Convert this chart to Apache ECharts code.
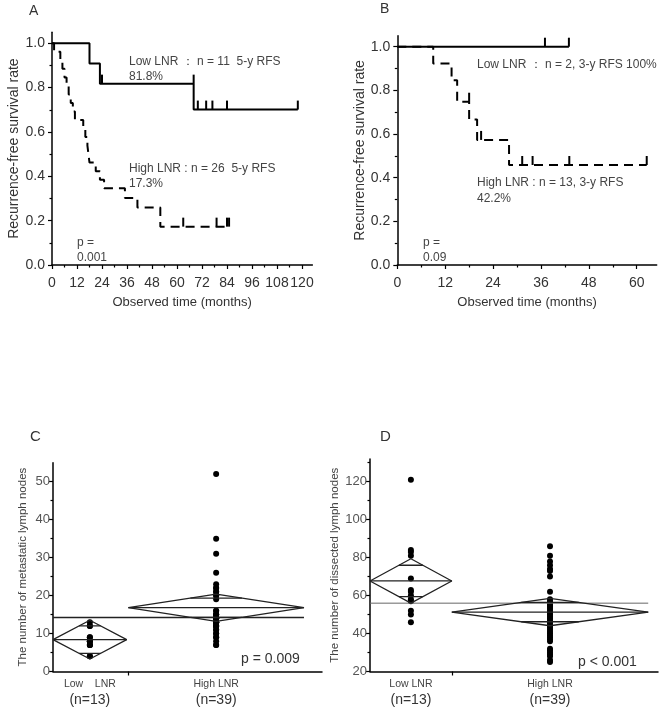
<!DOCTYPE html>
<html><head><meta charset="utf-8">
<script src="https://cdn.jsdelivr.net/npm/echarts@6/dist/echarts.min.js"></script>
<style>html,body{margin:0;padding:0;background:#fff}#c{width:667px;height:707px}</style>
</head><body><div id="c"></div>
<script>
// ---------- Panel A (Kaplan-Meier) ----------
const aLowTime  = [0, 18, 23, 68, 118];
const aLowSurv  = [1.0, 0.909, 0.818, 0.701, 0.701];
const aLowCensorTime = [24, 68, 70, 74, 77, 84, 118];
const aLowCensorSurv = [0.818, 0.818, 0.701, 0.701, 0.701, 0.701, 0.701];
const aHighTime = [0, 1, 4, 5, 6, 7, 8, 9, 10, 11, 15, 16, 17, 17.5, 18, 21, 23, 25, 35, 41, 52, 85];
const aHighSurv = [1.0, 0.962, 0.923, 0.885, 0.846, 0.808, 0.769, 0.731, 0.692, 0.654, 0.615, 0.577, 0.538, 0.500, 0.462, 0.423, 0.385, 0.346, 0.302, 0.259, 0.173, 0.173];
const aHighCensorTime = [63, 79, 84, 85];
const aHighCensorSurv = [0.173, 0.173, 0.173, 0.173];
const aXTicks = [0, 12, 24, 36, 48, 60, 72, 84, 96, 108, 120];
const aXMinor = [6, 18, 30, 42, 54, 66, 78, 90, 102, 114];

// ---------- Panel B (Kaplan-Meier) ----------
const bLowTime  = [0, 43];
const bLowSurv  = [1.0, 1.0];
const bLowCensorTime = [37, 43];
const bLowCensorSurv = [1.0, 1.0];
const bHighTime = [0, 9, 13.6, 15, 18, 20, 28, 62.5];
const bHighSurv = [1.0, 0.923, 0.846, 0.748, 0.667, 0.573, 0.458, 0.458];
const bHighCensorTime = [18, 21, 31.3, 33.9, 43.1, 62.5];
const bHighCensorSurv = [0.748, 0.573, 0.458, 0.458, 0.458, 0.458];
const bXTicks = [0, 12, 24, 36, 48, 60];
const bXMinor = [6, 18, 30, 42, 54];

const kmYTicks = [0, 0.2, 0.4, 0.6, 0.8, 1.0];
const kmYMinor = [0.1, 0.3, 0.5, 0.7, 0.9];

// ---------- Panel C (metastatic lymph nodes) ----------
const groupNames = ['Low LNR', 'High LNR'];
const groupN = [13, 39];
const cLow  = [13, 12, 12, 9, 9, 8, 8, 8, 7, 7, 7, 4, 4];
const cHigh = [52, 35, 31, 26, 23, 22, 22, 21, 21, 20, 20, 19, 16, 16, 15, 15, 15, 14, 14, 14, 14, 13, 13, 13, 13, 13, 12, 12, 12, 12, 11, 11, 10, 10, 9, 9, 8, 7, 7];
const cMean = [8.4, 16.8];
const cCI   = [5.1, 3.6];
const cGrandMean = 14.2;
const cGroupLeft  = [0, 28];
const cGroupRight = [27.4, 93.3];
const cYTicks = [0, 10, 20, 30, 40, 50];
const cYMinor = [5, 15, 25, 35, 45];

// ---------- Panel D (dissected lymph nodes) ----------
const dLow  = [121, 84, 83, 81, 69, 63, 62, 60, 58, 57, 52, 50, 46];
const dHigh = [86, 81, 78, 76, 74, 73, 70, 62, 58, 57, 56, 55, 55, 54, 53, 52, 51, 50, 49, 48, 47, 46, 45, 44, 43, 42, 41, 40, 39, 38, 37, 36, 32, 31, 30, 29, 28, 26, 25];
const dMean = [67.7, 51.3];
const dCI   = [11.7, 7.2];
const dGrandMean = 56;
const dGroupLeft  = [0, 28.4];
const dGroupRight = [28.4, 96.6];
const dYTicks = [20, 40, 60, 80, 100, 120];
const dYMinor = [30, 50, 70, 90, 110, 130];

const FONT = 'Liberation Sans, Arial, sans-serif';
const zip = (xs, ys) => xs.map((x, i) => [x, ys[i]]);

function kmLine(xi, yi, t, s, dashed) {
  return { type: 'line', xAxisIndex: xi, yAxisIndex: yi, step: 'end', symbol: 'none', silent: true,
    data: zip(t, s), lineStyle: { color: '#000', width: 2, type: dashed ? [9, 6] : 'solid' } };
}
function censor(xi, yi, t, s) {
  return { type: 'scatter', xAxisIndex: xi, yAxisIndex: yi, symbol: 'rect', symbolSize: [2, 9],
    symbolOffset: [0, '-50%'], itemStyle: { color: '#000', opacity: 1 }, data: zip(t, s), silent: true };
}
function seg(xi, yi, pts, w, color) {
  return { type: 'line', xAxisIndex: xi, yAxisIndex: yi, symbol: 'none', silent: true, data: pts,
    lineStyle: { color: color || '#222', width: w || 1.3 } };
}
function diamonds(xi, yi, left, right, mean, ci) {
  const out = [];
  for (let g = 0; g < mean.length; g++) {
    const l = left[g], r = right[g], c = (l + r) / 2, m = mean[g], h = ci[g];
    out.push(seg(xi, yi, [[l, m], [c, m + h], [r, m], [c, m - h], [l, m]]));
    out.push(seg(xi, yi, [[l, m], [r, m]]));
    const hw = (r - l) / 2 * (1 - 1 / Math.SQRT2), d = h / Math.SQRT2;
    out.push(seg(xi, yi, [[c - hw, m + d], [c + hw, m + d]]));
    out.push(seg(xi, yi, [[c - hw, m - d], [c + hw, m - d]]));
  }
  return out;
}
function dots(xi, yi, x, vals) {
  return { type: 'scatter', xAxisIndex: xi, yAxisIndex: yi, symbolSize: 6, itemStyle: { color: '#000', opacity: 1 },
    data: vals.map(v => [x, v]), silent: true };
}

const axLine = { show: true, lineStyle: { color: '#000', width: 1.5 } };
function kmX(grid, max, ticks, name) {
  return { gridIndex: grid, type: 'value', min: 0, max: max, position: 'bottom',
    axisLine: axLine, splitLine: { show: false },
    axisTick: { show: true, customValues: ticks, length: 4, lineStyle: { color: '#000', width: 1.2 } },
    axisLabel: { customValues: ticks, fontSize: 14, color: '#333', margin: 11, fontFamily: FONT },
    name: name, nameLocation: 'middle', nameGap: 31, nameTextStyle: { fontSize: 13, color: '#333', fontFamily: FONT } };
}
function minorX(grid, max, ticks, min) {
  return { gridIndex: grid, type: 'value', min: min || 0, max: max, position: 'bottom',
    axisLine: { show: false }, splitLine: { show: false }, axisLabel: { show: false },
    axisTick: { show: true, customValues: ticks, length: 2.5, lineStyle: { color: '#000', width: 1.2 } } };
}
function kmY(grid) {
  return { gridIndex: grid, type: 'value', min: 0, max: 1.05, position: 'left',
    axisLine: axLine, splitLine: { show: false },
    axisTick: { show: true, customValues: kmYTicks, length: 4, lineStyle: { color: '#000', width: 1.2 } },
    axisLabel: { customValues: kmYTicks, fontSize: 14, color: '#333', margin: 7, fontFamily: FONT, formatter: v => v.toFixed(1) },
    name: 'Recurrence-free survival rate', nameLocation: 'middle', nameGap: 30,
    nameTextStyle: { fontSize: 14, color: '#333', fontFamily: FONT } };
}
function minorY(grid, min, max, ticks) {
  return { gridIndex: grid, type: 'value', min: min, max: max, position: 'left',
    axisLine: { show: false }, splitLine: { show: false }, axisLabel: { show: false },
    axisTick: { show: true, customValues: ticks, length: 2.5, lineStyle: { color: '#000', width: 1.2 } } };
}
function dotY(grid, min, max, ticks, name, gap) {
  return { gridIndex: grid, type: 'value', min: min, max: max, position: 'left',
    axisLine: axLine, splitLine: { show: false },
    axisTick: { show: true, customValues: ticks, length: 4, lineStyle: { color: '#000', width: 1.2 } },
    axisLabel: { customValues: ticks, fontSize: 13, color: '#555', margin: 3, fontFamily: FONT },
    name: name, nameLocation: 'middle', nameGap: gap,
    nameTextStyle: { fontSize: 11.5, color: '#444', fontFamily: FONT } };
}
function dotX(grid, left, right, lowLabel) {
  const centers = left.map((l, i) => (l + right[i]) / 2);
  return { gridIndex: grid, type: 'value', min: 0, max: 100, position: 'bottom',
    axisLine: axLine, splitLine: { show: false },
    axisTick: { show: true, customValues: [left[1]], length: 4, lineStyle: { color: '#000', width: 1.2 } },
    axisLabel: { customValues: centers, margin: 5, fontFamily: FONT,
      formatter: v => { const i = centers.indexOf(v); const nm = i === 0 ? lowLabel : groupNames[1];
        return '{a|' + nm + '}\n{b|(n=' + groupN[i] + ')}'; },
      rich: { a: { fontSize: 10.5, color: '#444', lineHeight: 15, fontFamily: FONT },
              b: { fontSize: 14, color: '#333', lineHeight: 17, fontFamily: FONT } } } };
}

function txt(x, y, text, size, color) {
  return { type: 'text', x: x, y: y, silent: true,
    style: { text: text, fontSize: size || 12, fontFamily: FONT, fill: color || '#444', verticalAlign: 'middle', align: 'left' } };
}

const cCenters = cGroupLeft.map((l, i) => (l + cGroupRight[i]) / 2);
const dCenters = dGroupLeft.map((l, i) => (l + dGroupRight[i]) / 2);

const option = {
  animation: false,
  backgroundColor: '#fff',
  grid: [
    { left: 52, top: 32.2, width: 260.4, height: 232.8 },
    { left: 397.3, top: 35.8, width: 259.4, height: 229.2 },
    { left: 53, top: 462.7, width: 269, height: 209 },
    { left: 370, top: 458.9, width: 288, height: 212.8 }
  ],
  xAxis: [
    kmX(0, 125, aXTicks, 'Observed time (months)'),
    minorX(0, 125, aXMinor),
    kmX(1, 65, bXTicks, 'Observed time (months)'),
    minorX(1, 65, bXMinor),
    dotX(2, cGroupLeft, cGroupRight, 'Low    LNR'),
    dotX(3, dGroupLeft, dGroupRight, 'Low LNR')
  ],
  yAxis: [
    kmY(0), minorY(0, 0, 1.05, kmYMinor),
    kmY(1), minorY(1, 0, 1.05, kmYMinor),
    dotY(2, 0, 55, cYTicks, 'The number of metastatic lymph nodes', 24), minorY(2, 0, 55, cYMinor),
    dotY(3, 20, 132, dYTicks, 'The number of dissected lymph nodes', 29), minorY(3, 20, 132, dYMinor)
  ],
  series: [
    kmLine(0, 0, aLowTime, aLowSurv, false),
    censor(0, 0, aLowCensorTime, aLowCensorSurv),
    kmLine(0, 0, aHighTime, aHighSurv, true),
    censor(0, 0, aHighCensorTime, aHighCensorSurv),
    kmLine(2, 2, bLowTime, bLowSurv, false),
    censor(2, 2, bLowCensorTime, bLowCensorSurv),
    kmLine(2, 2, bHighTime, bHighSurv, true),
    censor(2, 2, bHighCensorTime, bHighCensorSurv),
    seg(4, 4, [[0, cGrandMean], [cGroupRight[1], cGrandMean]], 1.5, '#222'),
    ...diamonds(4, 4, cGroupLeft, cGroupRight, cMean, cCI),
    dots(4, 4, cCenters[0], cLow),
    dots(4, 4, cCenters[1], cHigh),
    seg(5, 6, [[0, dGrandMean], [dGroupRight[1], dGrandMean]], 1, '#666'),
    ...diamonds(5, 6, dGroupLeft, dGroupRight, dMean, dCI),
    dots(5, 6, dCenters[0], dLow),
    dots(5, 6, dCenters[1], dHigh)
  ],
  graphic: [
    txt(29, 11, 'A', 14, '#333'),
    txt(380, 9, 'B', 14, '#333'),
    txt(30, 437, 'C', 15, '#333'),
    txt(380, 437, 'D', 15, '#333'),
    txt(129, 62, 'Low LNR ： n = 11  5-y RFS'),
    txt(129, 77, '81.8%'),
    txt(129, 169, 'High LNR : n = 26  5-y RFS'),
    txt(129, 184, '17.3%'),
    txt(77, 243, 'p ='),
    txt(77, 258, '0.001'),
    txt(477, 65, 'Low LNR ： n = 2, 3-y RFS 100%'),
    txt(477, 183, 'High LNR : n = 13, 3-y RFS'),
    txt(477, 199, '42.2%'),
    txt(423, 243, 'p ='),
    txt(423, 258, '0.09'),
    txt(241, 659, 'p = 0.009', 14, '#333'),
    txt(578, 662, 'p < 0.001', 14, '#333')
  ]
};
echarts.init(document.getElementById('c')).setOption(option);
</script></body></html>
